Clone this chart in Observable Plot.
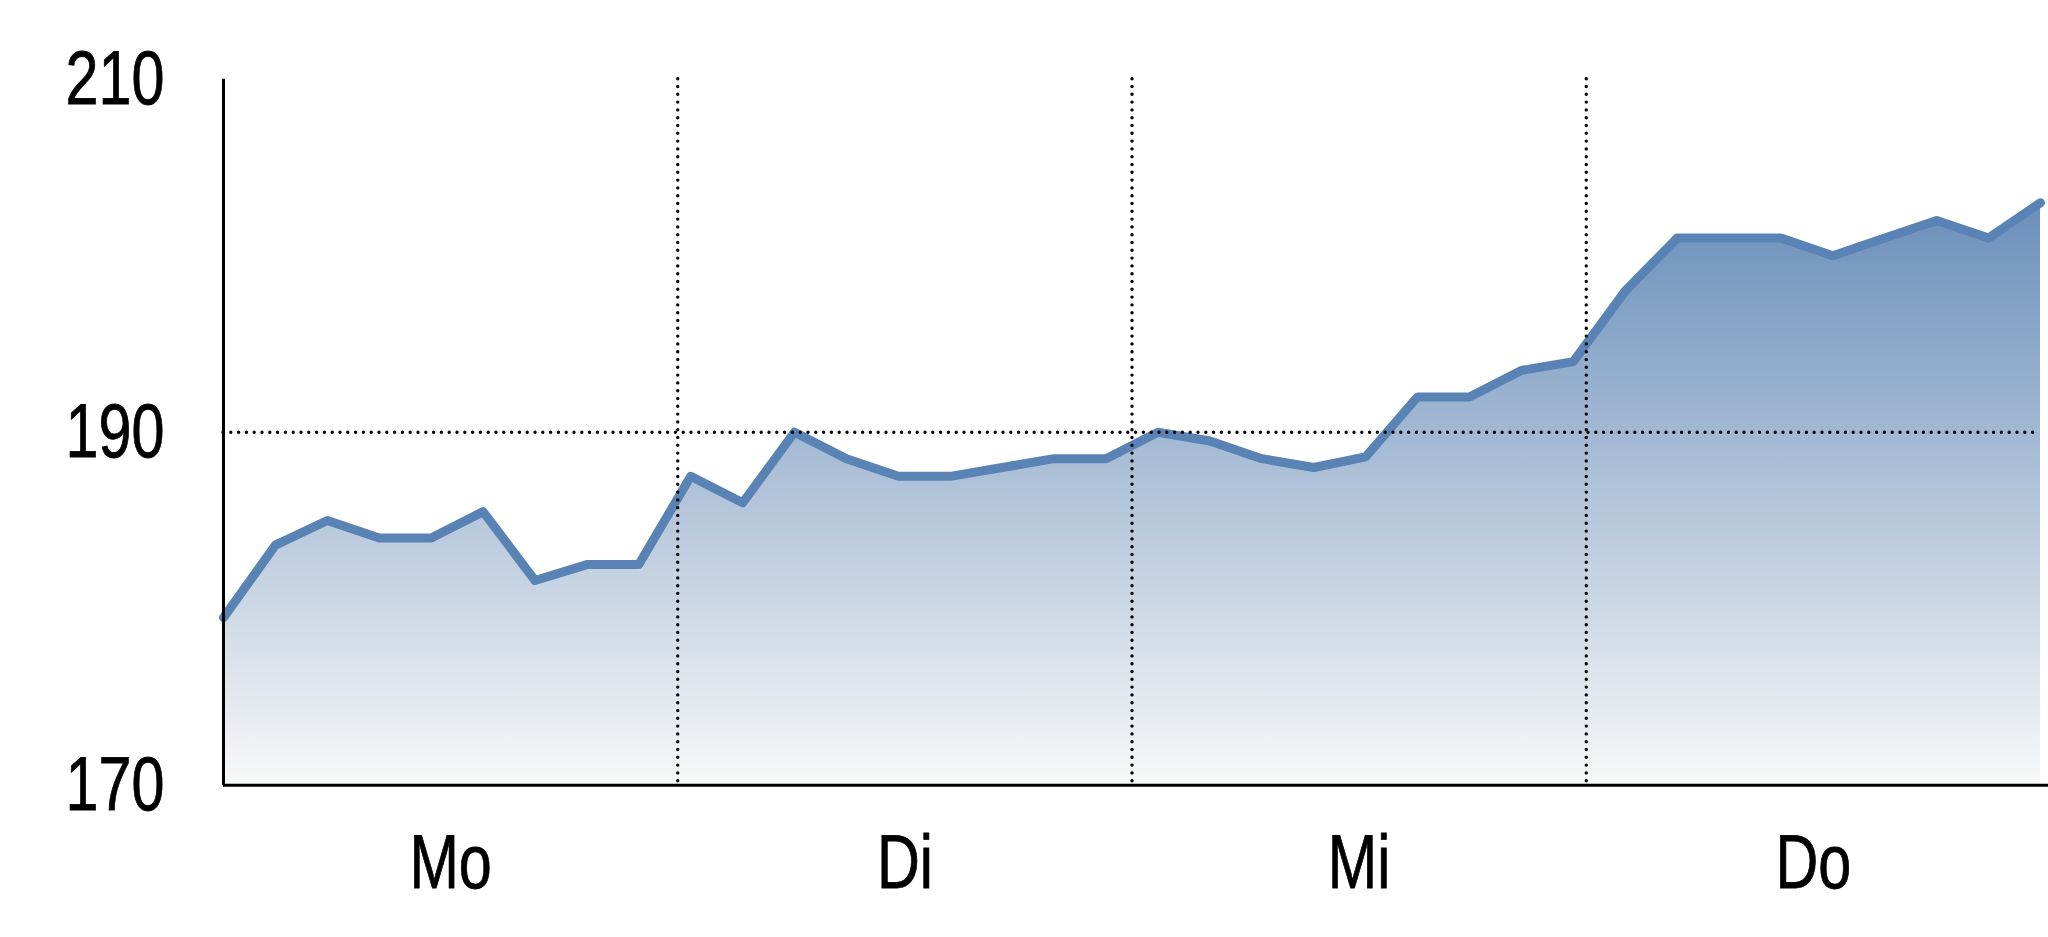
<!DOCTYPE html>
<html><head><meta charset="utf-8">
<script src="https://cdn.jsdelivr.net/npm/d3@7"></script>
<script src="https://cdn.jsdelivr.net/npm/@observablehq/plot@0.6"></script>
<style>html,body{margin:0;padding:0;background:#fff;} svg{display:block}</style>
</head><body><div id="chart"></div>
<script>
const values = [179.5,183.6,185,184,184,185.5,181.6,182.5,182.5,187.5,186,190,188.5,187.5,187.5,188,188.5,188.5,190,189.5,188.5,188,188.6,192,192,193.5,194,198,201,201,201,200,201,202,201,203];
const dayLabels = ["Mo","Di","Mi","Do"];
const yTicks = [170,190,210];
const refLevel = [190];

const data = values.map((v, i) => ({i, v}));
const span = values.length - 1;
const perDay = span / dayLabels.length;
const dayBounds = dayLabels.slice(1).map((_, k) => (k + 1) * perDay);
const dayCenters = dayLabels.map((_, k) => (k + 0.5) * perDay);
const labelAt = new Map(dayCenters.map((c, k) => [c, dayLabels[k]]));

const chart = Plot.plot({
  width: 2048, height: 937,
  marginLeft: 223, marginRight: 8, marginTop: 78.7, marginBottom: 152.3,
  x: {domain: [0, span], axis: null, label: null},
  y: {domain: [170, 210], axis: null, label: null},
  style: {fontFamily: "'Liberation Sans', Arial, sans-serif", background: "#fff", color: "#000"},
  marks: [
    Plot.areaY(data, {x: "i", y1: () => 170, y2: "v", fill: "url(#areaGrad)"}),
    Plot.lineY(data, {x: "i", y: "v", stroke: "#5a83b5", strokeWidth: 9, strokeLinejoin: "round", strokeLinecap: "round"}),
    Plot.ruleY(refLevel, {stroke: "#000", strokeWidth: 3.4, strokeDasharray: "0,7.8", strokeLinecap: "round"}),
    Plot.ruleX(dayBounds, {stroke: "#000", strokeWidth: 3.4, strokeDasharray: "0,7.8", strokeLinecap: "round"}),
    Plot.ruleX([0], {stroke: "#000", strokeWidth: 3}),
    Plot.ruleY([170], {stroke: "#000", strokeWidth: 3, insetRight: -8}),
    Plot.axisY(yTicks, {anchor: "left", label: null, tickSize: 0, tickPadding: 59, fontSize: 76}),
    Plot.axisX(dayCenters, {anchor: "bottom", label: null, tickSize: 0, tickPadding: 49, fontSize: 76, tickFormat: d => labelAt.get(d)})
  ]
});

const svg = chart.tagName.toLowerCase() === "svg" ? chart : chart.querySelector("svg");
const defs = d3.select(svg).insert("defs", ":first-child");
const grad = defs.append("linearGradient").attr("id", "areaGrad")
  .attr("x1", 0).attr("y1", 0).attr("x2", 0).attr("y2", 1);
grad.append("stop").attr("offset", "0%").attr("stop-color", "#6a8fbb");
grad.append("stop").attr("offset", "100%").attr("stop-color", "#f8f8f8");

document.getElementById("chart").appendChild(chart);

// condensed look of the original labels
const ns = "http://www.w3.org/2000/svg";
svg.querySelectorAll("text").forEach(t => {
  const r = t.getBoundingClientRect();
  const anchor = getComputedStyle(t).textAnchor;
  const sx = anchor === "end" ? r.right : anchor === "middle" ? (r.left + r.right) / 2 : r.left;
  const pt = svg.createSVGPoint(); pt.x = sx; pt.y = r.top;
  const local = pt.matrixTransform(t.parentNode.getScreenCTM().inverse());
  const g = document.createElementNS(ns, "g");
  g.setAttribute("transform", `translate(${local.x},0) scale(0.78,1) translate(${-local.x},0)`);
  t.setAttribute("stroke", "#000");
  t.setAttribute("stroke-width", "0.8");
  t.parentNode.insertBefore(g, t);
  g.appendChild(t);
});
</script>
</body></html>
